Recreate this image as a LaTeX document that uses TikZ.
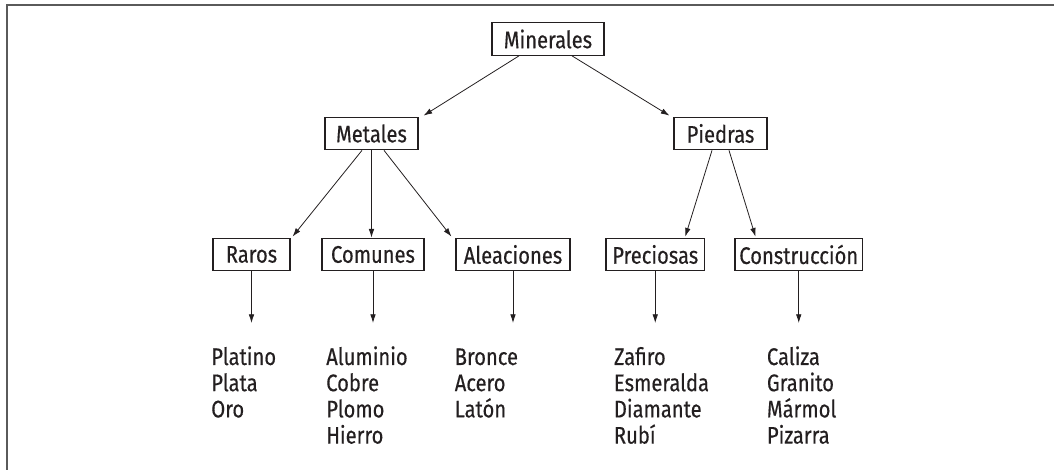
\documentclass[tikz,border=0pt]{standalone}
\usepackage{fontspec}
\setmainfont{Fira Sans}[FakeStretch=0.84,FakeBold=0.4]
\usetikzlibrary{arrows.meta,calc}
\definecolor{ink}{HTML}{231F20}
\definecolor{framec}{HTML}{5A5A5A}
\tikzset{
  catbox/.style={draw=ink, line width=0.8pt, text=ink, minimum height=24.5pt, inner xsep=0pt, inner ysep=0pt,
    font=\fontsize{18}{19.65}\selectfont},
  leaf/.style={text=ink, anchor=base west, inner sep=0pt,
    font=\fontsize{18}{19.65}\selectfont},
  arr/.style={draw=ink, line width=0.6pt, -{Latex[length=6.5pt,width=4.2pt]}},
}
\begin{document}
\begin{tikzpicture}[x=0.75pt,y=-0.75pt]
\useasboundingbox (0,0) rectangle (1054,470);
\draw[framec, line width=1.5pt] (6.8,520) -- (6.8,5.5) -- (1100,5.5);

\node[catbox, minimum width=84pt] (mi) at (548,39) {Minerales};
\node[catbox, minimum width=69.75pt] (me) at (371.5,133.5) {Metales};
\node[catbox, minimum width=69.75pt] (pi) at (720.5,133.5) {Piedras};
\node[catbox, minimum width=57.75pt] (ra) at (251.5,254.5) {Raros};
\node[catbox, minimum width=76.5pt] (co) at (373,254.5) {Comunes};
\node[catbox, minimum width=85.5pt] (al) at (513,254.5) {Aleaciones};
\node[catbox, minimum width=73.9pt] (pr) at (655.25,254.5) {Preciosas};
\node[catbox, minimum width=95.6pt] (cn) at (798.75,254.5) {Construcción};

\coordinate (tipline) at (0,323);

\draw[arr] ($(mi.south)+(-29,0)$) -- ($(me.north east)+(5,-1)$);
\draw[arr] ($(mi.south)+(24,0)$) -- ($(pi.north west)+(-4,-1)$);
\draw[arr] ($(me.south)+(-9.5,0)$) -- ($(ra.north east)+(2,-1)$);
\draw[arr] (me.south) -- (me.south |- co.north);
\draw[arr] ($(me.south)+(12.5,0)$) -- ($(al.north west)+(-4,-1)$);
\draw[arr] ($(pi.south)+(-8.5,0)$) -- ($(pr.north)+(30,-1)$);
\draw[arr] ($(pi.south)+(8.5,0)$) -- ($(cn.north west)+(21,-1)$);

\draw[arr] (ra.south) -- (ra.south |- tipline);
\draw[arr] (co.south) -- (co.south |- tipline);
\draw[arr] (al.south) -- (al.south |- tipline);
\draw[arr] (pr.south) -- (pr.south |- tipline);
\draw[arr] (cn.south) -- (cn.south |- tipline);

\node[leaf] (lra) at (211,365) {\vtop{\hbox{Platino}\hbox{Plata}\hbox{Oro}}};
\node[leaf] (lco) at (326,365) {\vtop{\hbox{Aluminio}\hbox{Cobre}\hbox{Plomo}\hbox{Hierro}}};
\node[leaf] (lal) at (454.5,365) {\vtop{\hbox{Bronce}\hbox{Acero}\hbox{Latón}}};
\node[leaf] (lpr) at (613.7,365) {\vtop{\hbox{Zafiro}\hbox{Esmeralda}\hbox{Diamante}\hbox{Rubí}}};
\node[leaf] (lcn) at (766.7,365) {\vtop{\hbox{Caliza}\hbox{Granito}\hbox{Mármol}\hbox{Pizarra}}};
\end{tikzpicture}
\end{document}
